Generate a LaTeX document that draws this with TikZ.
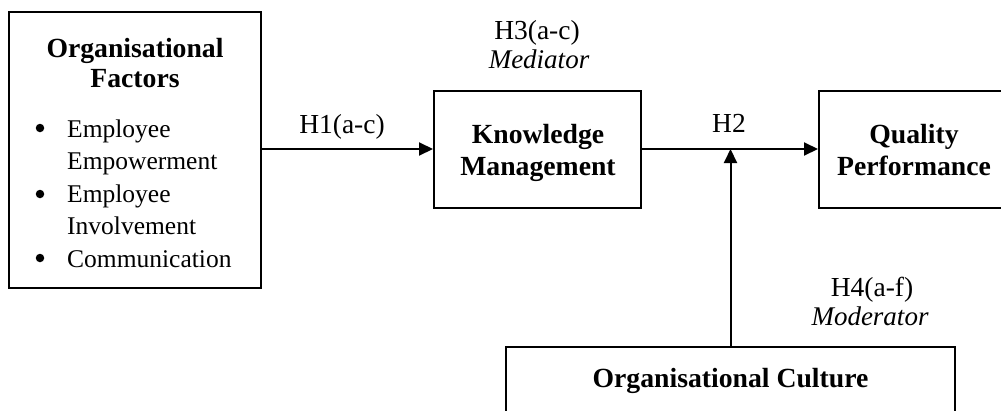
\documentclass[tikz,border=0pt]{standalone}
\usepackage{fontspec}
\setmainfont{Liberation Serif}
\usetikzlibrary{arrows.meta}
\begin{document}
\begin{tikzpicture}[x=1pt,y=-1pt,
  box/.style={draw=black, line width=2pt, inner sep=0pt, rectangle},
  txt/.style={inner sep=0pt, anchor=base, font=\fontsize{27.5}{30}\selectfont},
  ltxt/.style={inner sep=0pt, anchor=base west, font=\fontsize{25.5}{30}\selectfont},
  btxt/.style={inner sep=0pt, anchor=base, font=\fontsize{27.7}{30}\selectfont\bfseries},
  itxt/.style={inner sep=0pt, anchor=base, font=\fontsize{27}{30}\selectfont\itshape},
  dot/.style={circle, fill=black, inner sep=0pt, minimum size=8.5pt},
  arr/.style={line width=2pt, -{Triangle[length=14pt,width=13pt]}}]
\useasboundingbox (0,0) rectangle (1001,410);
% boxes
\node[box, minimum width=252pt, minimum height=276pt] (lf) at (135,150) {};
\node[box, minimum width=207pt, minimum height=117pt] (km) at (537.5,149) {};
\node[box, minimum width=190pt, minimum height=117pt] (qp) at (914,149) {};
\node[box, minimum width=449pt, minimum height=90pt] (oc) at (730.5,392) {};
% left box text
\node[btxt] (lft1) at (135,57) {Organisational};
\node[btxt] (lft2) at (135,87) {Factors};
\node[dot] (b1) at (40,128) {};
\node[ltxt] (e1) at (67,137) {Employee};
\node[ltxt] (e2) at (67,169) {Empowerment};
\node[dot] (b2) at (40,194) {};
\node[ltxt] (e3) at (67,202) {Employee};
\node[ltxt] (e4) at (67,234) {Involvement};
\node[dot] (b3) at (40,258) {};
\node[ltxt] (e5) at (67,267) {Communication};
% other box texts
\node[btxt] (kmt1) at (538,143) {Knowledge};
\node[btxt] (kmt2) at (538,175) {Management};
\node[btxt] (qpt1) at (914,143) {Quality};
\node[btxt] (qpt2) at (914,175) {Performance};
\node[btxt] (oct) at (730.5,387) {Organisational Culture};
% labels
\node[txt] (h1) at (342,133) {H1(a-c)};
\node[txt] (h3) at (537,39) {H3(a-c)};
\node[itxt] (med) at (539,68) {Mediator};
\node[txt] (h2) at (729,132) {H2};
\node[txt] (h4) at (872,296) {H4(a-f)};
\node[itxt] (mod) at (870,325) {Moderator};
% connectors
\coordinate (j) at (730.5,149);
\draw[arr] (lf.east |- km.west) -- (km.west);
\draw[arr] (km.east) -- (qp.west);
\draw[arr] (oc.north) -- (j);
\end{tikzpicture}
\end{document}
